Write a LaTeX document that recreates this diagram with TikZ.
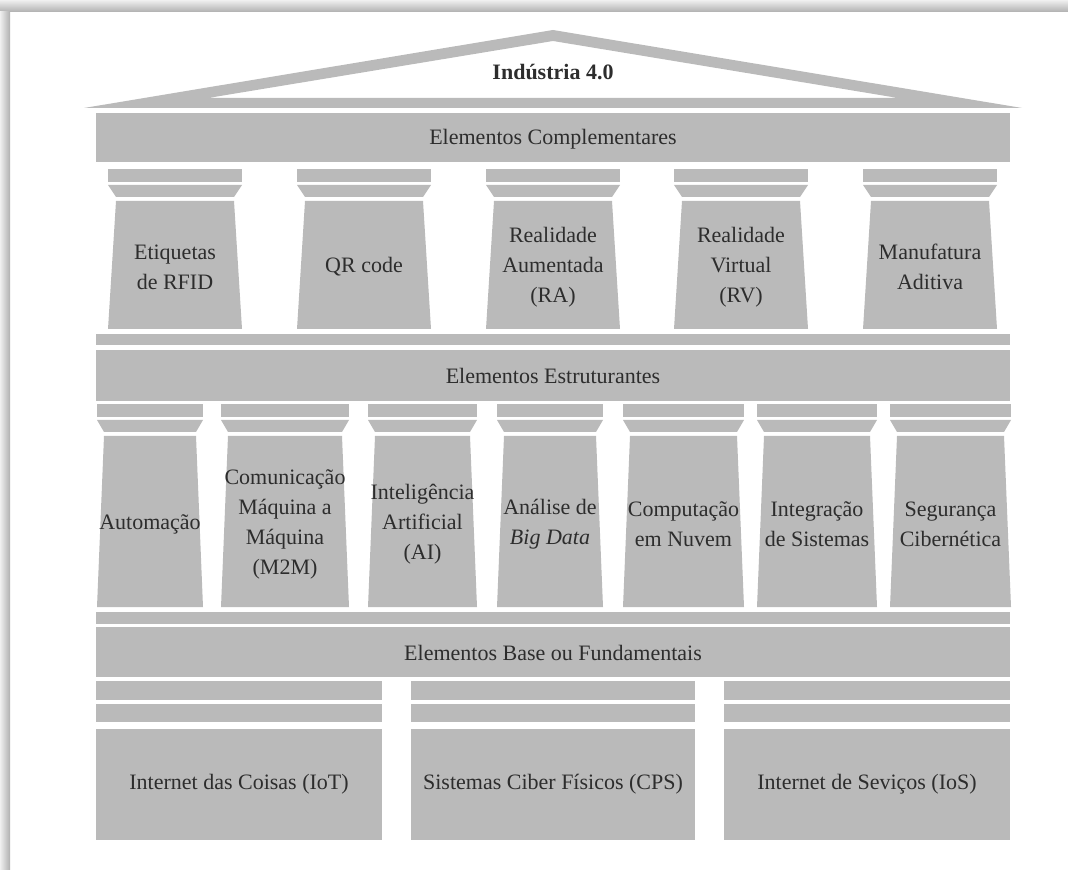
\documentclass[tikz,border=0pt]{standalone}
\usepackage{fontspec}
\setmainfont{Liberation Serif}
\usepackage{tikz}
\usetikzlibrary{positioning}

\definecolor{stone}{RGB}{186,186,186}
\definecolor{ink}{RGB}{45,45,45}

\begin{document}
\begin{tikzpicture}[
    x=0.5pt, y=-0.5pt,
    part/.style={fill=stone},
    lbl/.style={text=ink, align=center, font=\fontsize{11}{15}\selectfont},
    title/.style={text=ink, font=\fontsize{11}{13}\selectfont\bfseries}
]
\useasboundingbox (0,0) rectangle (1068,870);
% frame shadow
\shade[top color=gray!12, bottom color=gray!62] (0,0) rectangle (1068,12);
\shade[left color=gray!12, right color=gray!62] (0,12) rectangle (10,870);

% roof
\fill[part, even odd rule] (84,108) -- (553,30) -- (1022,108) -- cycle
    (208,98) -- (553,41) -- (898,98) -- cycle;
\node[title] (ind) at (553,72) {Indústria 4.0};

% top band
\fill[part] (96,113) rectangle (1010,162);
\node[lbl] (compl) at (553,139) {Elementos Complementares};

% first row of columns
\foreach \xl/\xr/\nm/\txt in {108/242/rfid/{Etiquetas\\de RFID},
    297/431/qr/{QR code},
    486/620/ra/{Realidade\\Aumentada\\(RA)},
    674/808/rv/{Realidade\\Virtual\\(RV)},
    863/997/manuf/{Manufatura\\Aditiva}} {
  \fill[part] (\xl,169) rectangle (\xr,182);
  \fill[part] (\xl,185) -- (\xr,185) -- (\xr-8,197) -- (\xl+8,197) -- cycle;
  \fill[part] (\xl+8,201) -- (\xr-8,201) -- (\xr,329) -- (\xl,329) -- cycle;
  \node[lbl] (\nm) at ({(\xl+\xr)/2},267) {\txt};
}

% middle band
\fill[part] (96,334) rectangle (1010,345);
\fill[part] (96,350) rectangle (1010,401);
\node[lbl] (estr) at (553,376) {Elementos Estruturantes};

% second row of columns
\foreach \xl/\xr/\nm/\txt in {97/203/autom/{Automação},
    221/349/mtm/{Comunicação\\Máquina a\\Máquina\\(M2M)},
    368/477/ia/{Inteligência\\Artificial\\(AI)},
    497/603/bigdata/{Análise de\\\textit{Big Data}},
    623/744/nuvem/{Computação\\em Nuvem},
    757/877/integ/{Integração\\de Sistemas},
    890/1011/segur/{Segurança\\Cibernética}} {
  \fill[part] (\xl,404) rectangle (\xr,417);
  \fill[part] (\xl,420) -- (\xr,420) -- (\xr-7,432) -- (\xl+7,432) -- cycle;
  \fill[part] (\xl+7,436) -- (\xr-7,436) -- (\xr,607) -- (\xl,607) -- cycle;
  \node[lbl] (\nm) at ({(\xl+\xr)/2},524) {\txt};
}

% base band
\fill[part] (96,612) rectangle (1010,624);
\fill[part] (96,627) rectangle (1010,677);
\node[lbl] (base) at (553,653) {Elementos Base ou Fundamentais};

% base blocks
\foreach \xl/\xr/\nm/\txt in {96/382/iot/{Internet das Coisas (IoT)},
    411/695/cps/{Sistemas Ciber Físicos (CPS)},
    724/1010/ios/{Internet de Seviços (IoS)}} {
  \fill[part] (\xl,681) rectangle (\xr,700);
  \fill[part] (\xl,704) rectangle (\xr,722);
  \fill[part] (\xl,729) rectangle (\xr,840);
  \node[lbl] (\nm) at ({(\xl+\xr)/2},784) {\txt};
}
\end{tikzpicture}
\end{document}
